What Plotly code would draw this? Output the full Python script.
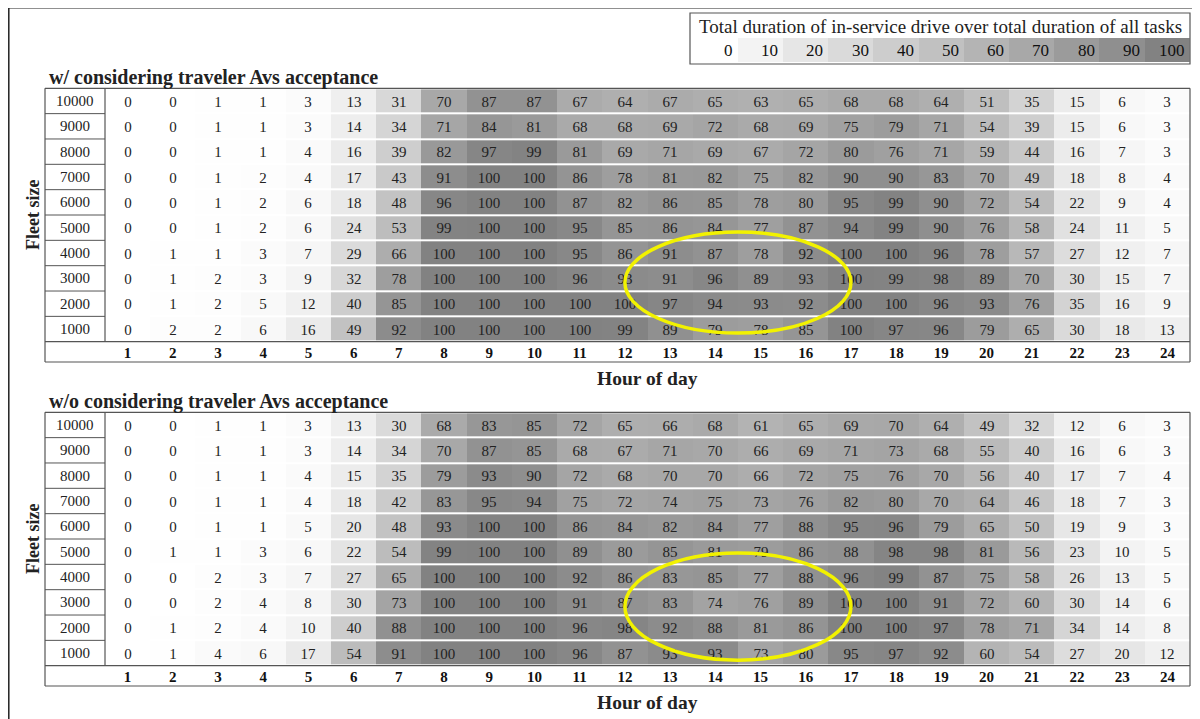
import plotly.graph_objects as go

# ---------------- data ----------------
hours = list(range(1, 25))
fleet_sizes = [10000, 9000, 8000, 7000, 6000, 5000, 4000, 3000, 2000, 1000]

with_acceptance = [
    [0, 0, 1, 1, 3, 13, 31, 70, 87, 87, 67, 64, 67, 65, 63, 65, 68, 68, 64, 51, 35, 15, 6, 3],
    [0, 0, 1, 1, 3, 14, 34, 71, 84, 81, 68, 68, 69, 72, 68, 69, 75, 79, 71, 54, 39, 15, 6, 3],
    [0, 0, 1, 1, 4, 16, 39, 82, 97, 99, 81, 69, 71, 69, 67, 72, 80, 76, 71, 59, 44, 16, 7, 3],
    [0, 0, 1, 2, 4, 17, 43, 91, 100, 100, 86, 78, 81, 82, 75, 82, 90, 90, 83, 70, 49, 18, 8, 4],
    [0, 0, 1, 2, 6, 18, 48, 96, 100, 100, 87, 82, 86, 85, 78, 80, 95, 99, 90, 72, 54, 22, 9, 4],
    [0, 0, 1, 2, 6, 24, 53, 99, 100, 100, 95, 85, 86, 84, 77, 87, 94, 99, 90, 76, 58, 24, 11, 5],
    [0, 1, 1, 3, 7, 29, 66, 100, 100, 100, 95, 86, 91, 87, 78, 92, 100, 100, 96, 78, 57, 27, 12, 7],
    [0, 1, 2, 3, 9, 32, 78, 100, 100, 100, 96, 93, 91, 96, 89, 93, 100, 99, 98, 89, 70, 30, 15, 7],
    [0, 1, 2, 5, 12, 40, 85, 100, 100, 100, 100, 100, 97, 94, 93, 92, 100, 100, 96, 93, 76, 35, 16, 9],
    [0, 2, 2, 6, 16, 49, 92, 100, 100, 100, 100, 99, 89, 79, 78, 85, 100, 97, 96, 79, 65, 30, 18, 13],
]

without_acceptance = [
    [0, 0, 1, 1, 3, 13, 30, 68, 83, 85, 72, 65, 66, 68, 61, 65, 69, 70, 64, 49, 32, 12, 6, 3],
    [0, 0, 1, 1, 3, 14, 34, 70, 87, 85, 68, 67, 71, 70, 66, 69, 71, 73, 68, 55, 40, 16, 6, 3],
    [0, 0, 1, 1, 4, 15, 35, 79, 93, 90, 72, 68, 70, 70, 66, 72, 75, 76, 70, 56, 40, 17, 7, 4],
    [0, 0, 1, 1, 4, 18, 42, 83, 95, 94, 75, 72, 74, 75, 73, 76, 82, 80, 70, 64, 46, 18, 7, 3],
    [0, 0, 1, 1, 5, 20, 48, 93, 100, 100, 86, 84, 82, 84, 77, 88, 95, 96, 79, 65, 50, 19, 9, 3],
    [0, 1, 1, 3, 6, 22, 54, 99, 100, 100, 89, 80, 85, 81, 79, 86, 88, 98, 98, 81, 56, 23, 10, 5],
    [0, 0, 2, 3, 7, 27, 65, 100, 100, 100, 92, 86, 83, 85, 77, 88, 96, 99, 87, 75, 58, 26, 13, 5],
    [0, 0, 2, 4, 8, 30, 73, 100, 100, 100, 91, 87, 83, 74, 76, 89, 100, 100, 91, 72, 60, 30, 14, 6],
    [0, 1, 2, 4, 10, 40, 88, 100, 100, 100, 96, 98, 92, 88, 81, 86, 100, 100, 97, 78, 71, 34, 14, 8],
    [0, 1, 4, 6, 17, 54, 91, 100, 100, 100, 96, 87, 93, 93, 73, 80, 95, 97, 92, 60, 54, 27, 20, 12],
]

legend_ticks = [0, 10, 20, 30, 40, 50, 60, 70, 80, 90, 100]

panel_titles = ["w/ considering traveler Avs acceptance", "w/o considering traveler Avs acceptance"]
legend_title = "Total duration of in-service drive over total duration of all tasks"
x_title = "Hour of day"
y_title = "Fleet size"

# highlighted region (hour range, fleet-size range) per panel
highlight_hours = [(12.0, 17.0), (12.0, 17.0)]
highlight_fleet = [(840, 4830), (720, 4950)]

# ---------------- layout geometry (page pixels) ----------------
OX, OY = 8, 8            # page body margin: figure origin on the page
FW, FH = 1192, 711       # figure size
FONT = "Liberation Serif"
HEAT_L, HEAT_R = 105, 1190
LAB_L = 45
panels = [dict(top=88.3, bot=341.7, hrow=362), dict(top=412.3, bot=665.7, hrow=686)]
colorscale = [[0, "#ffffff"], [1, "#828282"]]
LINE_C = "#555555"
TXT_C = "#222222"


def px(x):
    return (x - OX) / FW


def py(y):
    return 1 - (y - OY) / FH


fig = go.Figure()
shapes = []
annotations = []


def note(x, y, text, size, xanchor="center", bold=False, **kw):
    annotations.append(dict(x=px(x), y=py(y), xref="paper", yref="paper",
                            xanchor=xanchor, yanchor="middle",
                            text=("<b>%s</b>" % text) if bold else text, showarrow=False,
                            font=dict(family=FONT, size=size, color=TXT_C), **kw))


datasets = [with_acceptance, without_acceptance]
for i, (z, p) in enumerate(zip(datasets, panels)):
    sfx = "" if i == 0 else "2"
    fig.add_trace(go.Heatmap(
        z=z, x=hours, y=fleet_sizes,
        xaxis="x" + sfx, yaxis="y" + sfx,
        zmin=0, zmax=100, colorscale=colorscale, showscale=False,
        ygap=2, texttemplate="%{z}",
        textfont=dict(family=FONT, size=15, color=TXT_C),
        hoverinfo="skip",
    ))
    xa = dict(domain=[px(HEAT_L), px(HEAT_R)], range=[0.5, 24.5], anchor="y" + sfx,
              tickvals=hours, ticktext=[str(h) for h in hours], ticks="",
              tickfont=dict(family=FONT, size=15, color="#111111", weight="bold"),
              showgrid=False, zeroline=False, showline=False, fixedrange=True)
    ya = dict(domain=[py(p["bot"]), py(p["top"])], range=[500, 10500], anchor="x" + sfx,
              showticklabels=False, ticks="", showgrid=False, zeroline=False,
              showline=False, fixedrange=True)
    fig.update_layout(**{"xaxis" + sfx: xa, "yaxis" + sfx: ya})

    # fleet-size labels in the label column
    for f in fleet_sizes:
        annotations.append(dict(x=px((LAB_L + HEAT_L) / 2), xref="paper", y=f, yref="y" + sfx,
                                xanchor="center", yanchor="middle",
                                text=str(f), showarrow=False,
                                font=dict(family=FONT, size=15, color=TXT_C)))
    # label column row separators
    for f in fleet_sizes[:-1]:
        shapes.append(dict(type="line", xref="paper", yref="y" + sfx,
                           x0=px(LAB_L), x1=px(HEAT_L), y0=f - 500, y1=f - 500,
                           line=dict(color=LINE_C, width=1)))
    # table frame
    frame = [
        (LAB_L, p["top"], HEAT_R, p["top"]),
        (LAB_L, p["bot"], HEAT_R, p["bot"]),
        (LAB_L, p["hrow"], HEAT_R, p["hrow"]),
        (LAB_L, p["top"], LAB_L, p["hrow"]),
        (HEAT_R, p["top"], HEAT_R, p["hrow"]),
        (HEAT_L, p["top"], HEAT_L, p["bot"]),
    ]
    for x0, y0, x1, y1 in frame:
        shapes.append(dict(type="line", xref="paper", yref="paper",
                           x0=px(x0), x1=px(x1), y0=py(y0), y1=py(y1),
                           line=dict(color=LINE_C, width=1.2)))
    # titles
    note(47, p["top"] - 11, panel_titles[i], 20, xanchor="left", bold=True)
    note((HEAT_L + HEAT_R) / 2, p["hrow"] + 16, x_title, 19.5, bold=True)
    note(33, (p["top"] + p["bot"]) / 2, y_title, 18, bold=True, textangle=-90)
    # highlight ellipse
    hx, hy = highlight_hours[i], highlight_fleet[i]
    shapes.append(dict(type="circle", xref="x" + sfx, yref="y" + sfx,
                       x0=hx[0], x1=hx[1], y0=hy[0], y1=hy[1],
                       line=dict(color="#f2f200", width=3.5)))

# ---------------- legend ----------------
LEG_L, LEG_R, LEG_T, LEG_B = 690, 1190, 13, 64
cell_w = (HEAT_R - HEAT_L) / 24
fig.add_trace(go.Heatmap(
    z=[legend_ticks], x=legend_ticks, y=[0], xaxis="x3", yaxis="y3",
    zmin=0, zmax=100, colorscale=colorscale, showscale=False, hoverinfo="skip",
))
fig.update_layout(
    xaxis3=dict(domain=[px(HEAT_R - 11 * cell_w), px(HEAT_R)], range=[-5, 105], anchor="y3",
                visible=False, fixedrange=True),
    yaxis3=dict(domain=[py(62), py(38)], range=[-0.5, 0.5], anchor="x3",
                visible=False, fixedrange=True),
)
for v in legend_ticks:
    annotations.append(dict(x=v + 5, y=0, xref="x3", yref="y3", xanchor="right",
                            yanchor="middle", xshift=-3,
                            text=str(v), showarrow=False,
                            font=dict(family=FONT, size=17, color="#111111")))
note((LEG_L + LEG_R) / 2, 27, legend_title, 19)
shapes.append(dict(type="rect", xref="paper", yref="paper",
                   x0=px(LEG_L), x1=px(LEG_R), y0=py(LEG_B), y1=py(LEG_T),
                   line=dict(color=LINE_C, width=1.2)))

# page frame
shapes.append(dict(type="rect", xref="paper", yref="paper",
                   x0=px(8.8), x1=px(1215), y0=py(740), y1=py(7.8),
                   line=dict(color="#222222", width=1.5)))

fig.update_layout(
    width=FW, height=FH,
    margin=dict(l=0, r=0, t=0, b=0),
    paper_bgcolor="white", plot_bgcolor="white",
    shapes=shapes, annotations=annotations,
    showlegend=False,
)

fig.write_html("out.html")
